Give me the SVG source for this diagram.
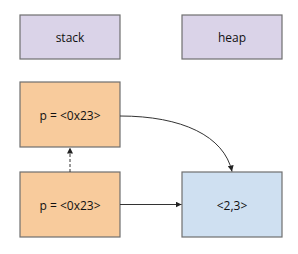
<svg xmlns="http://www.w3.org/2000/svg" width="298" height="254" viewBox="0 0 298 254">
  <style>
    .box { stroke: #6f6f6f; stroke-width: 1.2; }
    .lbl { font-family: "Open Sans", "Noto Sans", sans-serif; font-size: 12px; fill: #111; text-anchor: middle; dominant-baseline: central; }
    .edge { fill: none; stroke: #333; stroke-width: 1; }
  </style>
  <defs>
    <marker id="arr" viewBox="0 0 10 10" refX="10" refY="5" markerWidth="6" markerHeight="6" markerUnits="userSpaceOnUse" orient="auto">
      <path d="M0,0 L10,5 L0,10 z" fill="#222"/>
    </marker>
  </defs>
  <g id="stack">
    <rect class="box" x="20" y="15" width="100" height="44" fill="#dad3e8"/>
    <text class="lbl" x="70" y="37">stack</text>
  </g>
  <g id="heap">
    <rect class="box" x="182" y="15" width="100" height="44" fill="#dad3e8"/>
    <text class="lbl" x="232" y="37">heap</text>
  </g>
  <g id="p1">
    <rect class="box" x="20" y="82" width="100" height="65" fill="#f8cb9c"/>
    <text class="lbl" x="70" y="115">p = &lt;0x23&gt;</text>
  </g>
  <g id="p2">
    <rect class="box" x="20" y="172" width="100" height="65" fill="#f8cb9c"/>
    <text class="lbl" x="70" y="205">p = &lt;0x23&gt;</text>
  </g>
  <g id="obj">
    <rect class="box" x="182" y="172" width="100" height="65" fill="#cfe0f1"/>
    <text class="lbl" x="232" y="205">&lt;2,3&gt;</text>
  </g>
  <g id="connectors">
    <path class="edge" d="M120,116 C182,116 224,136 232,171.5" marker-end="url(#arr)"/>
    <path class="edge" d="M120,204.5 L181.5,204.5" marker-end="url(#arr)"/>
    <path class="edge" d="M70,172 L70,147.5" stroke="#666" stroke-dasharray="3,2" marker-end="url(#arr)"/>
  </g>
</svg>
